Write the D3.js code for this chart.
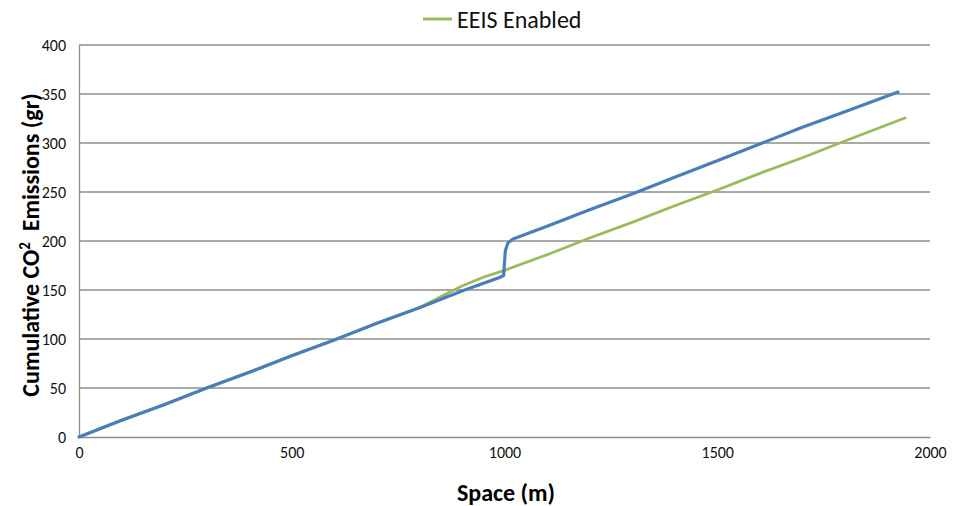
<!DOCTYPE html>
<html lang="en">
<head>
  <meta charset="UTF-8">
  <title>Cumulative CO2 Emissions</title>
  <script src='https://d3js.org/d3.v7.min.js'></script>
  <style>
    body { margin: 0; background: #fff; }
    text { font-family: Carlito, Lato, 'Open Sans', sans-serif; }
  </style>
</head>
<body>
</body>
<script>
  const width = 959, height = 506;
  const margin = {top: 45, right: 29, bottom: 69, left: 79};

  // data: [space (m), cumulative CO2 (gr)]
  const baselineSeries = [
    [0, 0], [100, 17], [200, 33], [300, 50], [400, 66], [500, 83],
    [600, 99], [700, 116], [800, 132], [900, 149], [990, 163],
    [998, 165], [1000, 178], [1002, 190], [1008, 198], [1020, 202],
    [1100, 215], [1200, 232], [1300, 248], [1400, 265], [1500, 282],
    [1600, 299], [1700, 316], [1800, 332], [1925, 352]
  ];
  const eeisSeries = [
    [0, 0], [100, 17], [200, 33], [300, 50], [400, 66], [500, 83],
    [600, 99], [700, 116], [800, 132], [850, 143], [900, 154],
    [950, 163], [1000, 170], [1100, 186], [1200, 203], [1300, 219],
    [1400, 236], [1500, 252], [1600, 269], [1700, 285], [1800, 302],
    [1944, 326]
  ];
  const xTicks = [0, 500, 1000, 1500, 2000];
  const yTicks = [0, 50, 100, 150, 200, 250, 300, 350, 400];
  const legendLabel = 'EEIS Enabled';

  const svg = d3.select('body').append('svg')
    .attr('width', width).attr('height', height);

  const x = d3.scaleLinear().domain([0, 2000]).range([margin.left, width - margin.right]);
  const y = d3.scaleLinear().domain([0, 400]).range([height - margin.bottom, margin.top]);

  // gridlines
  svg.append('g')
    .selectAll('line')
    .data(yTicks.slice(1))
    .join('line')
    .attr('x1', x(0)).attr('x2', x(2000))
    .attr('y1', d => y(d)).attr('y2', d => y(d))
    .attr('stroke', '#8c8c8c').attr('stroke-width', 1.3);

  // axes
  const xAxis = svg.append('g')
    .attr('transform', `translate(0,${y(0)})`)
    .call(d3.axisBottom(x).tickValues(xTicks).tickFormat(d3.format('d'))
      .tickSize(0).tickPadding(10));
  const yAxis = svg.append('g')
    .attr('transform', `translate(${x(0)},0)`)
    .call(d3.axisLeft(y).tickValues(yTicks).tickFormat(d3.format('d'))
      .tickSize(0).tickPadding(13));

  [xAxis, yAxis].forEach(a => {
    a.select('.domain').attr('stroke', '#8c8c8c').attr('stroke-width', 1.3);
    a.selectAll('text').attr('font-size', 16).attr('fill', '#111')
      .style('font-family', 'Carlito, Lato, sans-serif');
  });

  const line = d3.line().x(d => x(d[0])).y(d => y(d[1]));

  svg.append('path').datum(eeisSeries)
    .attr('d', line).attr('fill', 'none')
    .attr('stroke', '#9bbb59').attr('stroke-width', 2.8);

  svg.append('path').datum(baselineSeries)
    .attr('d', line).attr('fill', 'none')
    .attr('stroke', '#4a7ebb').attr('stroke-width', 3.2)
    .attr('stroke-linejoin', 'round').attr('stroke-linecap', 'round');

  // axis titles
  svg.append('text')
    .attr('x', 506).attr('y', 501)
    .attr('text-anchor', 'middle')
    .attr('font-size', 24).attr('font-weight', 'bold')
    .text('Space (m)');

  const yTitle = svg.append('text')
    .attr('transform', `translate(39,${245}) rotate(-90)`)
    .attr('text-anchor', 'middle')
    .attr('font-size', 24).attr('font-weight', 'bold');
  yTitle.append('tspan').text('Cumulative CO');
  yTitle.append('tspan').attr('font-size', 15).attr('dy', -9).text('2');
  yTitle.append('tspan').attr('dy', 9).text('\u00a0 Emissions (gr)');

  // legend
  const legend = svg.append('g');
  legend.append('line')
    .attr('x1', 423).attr('x2', 452).attr('y1', 19).attr('y2', 19)
    .attr('stroke', '#9bbb59').attr('stroke-width', 3);
  legend.append('text')
    .attr('x', 457).attr('y', 28)
    .attr('font-size', 24).attr('fill', '#111')
    .text(legendLabel);
</script>
</html>
